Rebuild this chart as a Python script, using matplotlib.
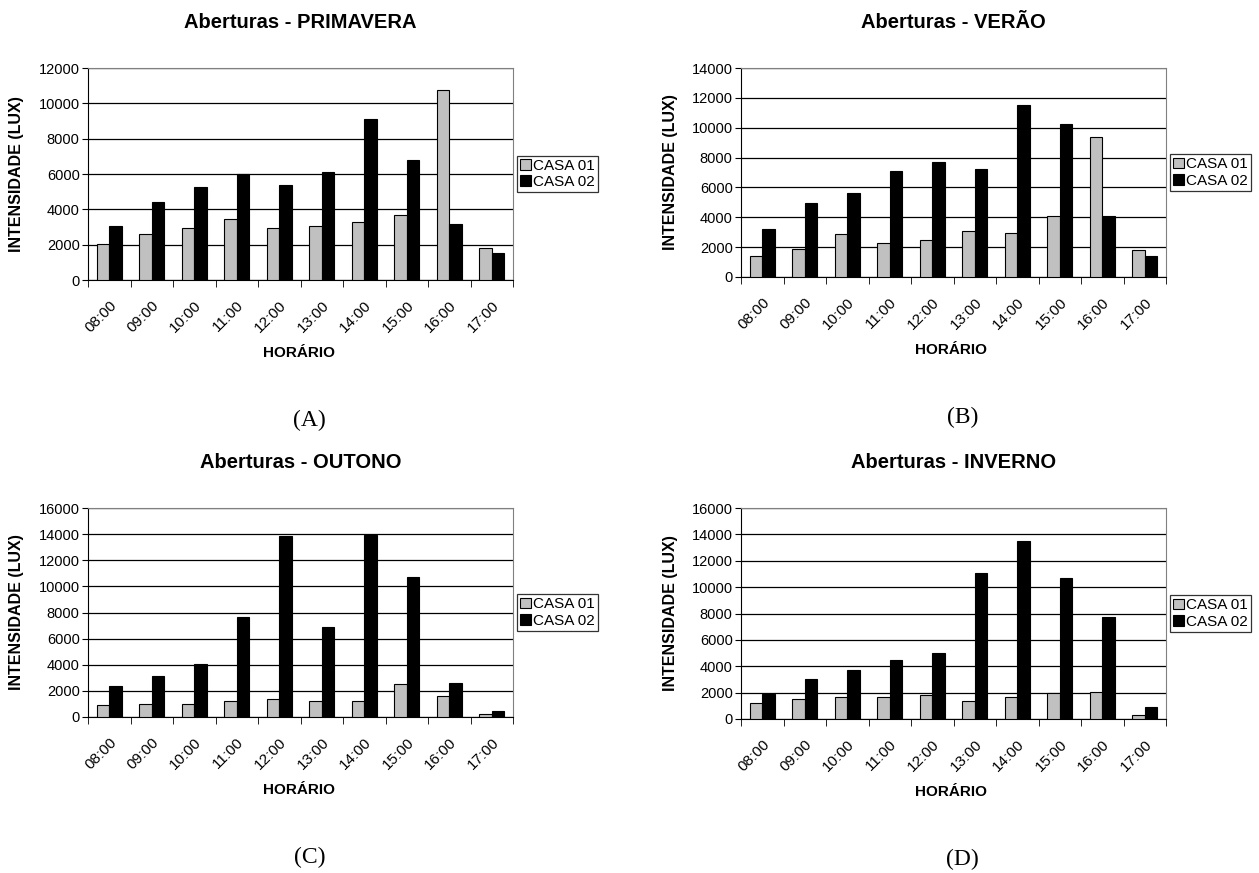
import numpy as np
import matplotlib
matplotlib.use("Agg")
import matplotlib.pyplot as plt

plt.rcParams['font.family'] = ['Liberation Sans', 'DejaVu Sans']

# horarios (eixo x)
horarios = ["08:00", "09:00", "10:00", "11:00", "12:00",
            "13:00", "14:00", "15:00", "16:00", "17:00"]

# valores (lux)
primavera_casa01 = [2060, 2610, 2950, 3450, 2970, 3050, 3310, 3660, 10750, 1790]
primavera_casa02 = [3070, 4440, 5280, 6000, 5350, 6100, 9120, 6820, 3160, 1540]

verao_casa01 = [1390, 1880, 2870, 2310, 2510, 3050, 2940, 4080, 9350, 1790]
verao_casa02 = [3230, 4980, 5650, 7130, 7690, 7260, 11520, 10220, 4060, 1410]

outono_casa01 = [900, 1020, 970, 1230, 1410, 1230, 1200, 2510, 1610, 230]
outono_casa02 = [2360, 3120, 4020, 7680, 13820, 6860, 13900, 10750, 2640, 440]

inverno_casa01 = [1190, 1490, 1650, 1670, 1800, 1390, 1700, 1950, 2030, 280]
inverno_casa02 = [1900, 3010, 3700, 4460, 5040, 11060, 13520, 10680, 7750, 890]

titulos = ["Aberturas - PRIMAVERA", "Aberturas - VERÃO",
           "Aberturas - OUTONO", "Aberturas - INVERNO"]
letras = ["(A)", "(B)", "(C)", "(D)"]
ymax = [12000, 14000, 16000, 16000]
series = [(primavera_casa01, primavera_casa02),
          (verao_casa01, verao_casa02),
          (outono_casa01, outono_casa02),
          (inverno_casa01, inverno_casa02)]

W, H = 1259, 873
fig = plt.figure(figsize=(W / 100, H / 100), dpi=100)

# caixas dos graficos em pixels: left, right, top, bottom
caixas = [(88, 513, 68, 280), (741, 1166, 68, 277),
          (88, 513, 508, 717), (741, 1166, 508, 719)]
ylabel_x = [17, 670, 17, 670]

x = np.arange(len(horarios))
w = 0.29

for i in range(4):
    l, r, t, b = caixas[i]
    ax = fig.add_axes([l / W, 1 - b / H, (r - l) / W, (b - t) / H])
    c1, c2 = series[i]
    ax.bar(x - w / 2, c1, w, color="#c0c0c0", edgecolor="black", linewidth=0.8,
           label="CASA 01", zorder=3)
    ax.bar(x + w / 2, c2, w, color="black", edgecolor="black", linewidth=0.8,
           label="CASA 02", zorder=3)

    ax.set_xlim(-0.5, len(horarios) - 0.5)
    ax.set_ylim(0, ymax[i])
    ax.set_yticks(np.arange(0, ymax[i] + 1, 2000))
    ax.yaxis.grid(True, color="black", linewidth=0.9, zorder=0)
    ax.tick_params(axis="y", labelsize=10.5, length=4, direction="out", pad=2)

    # ticks nas divisas das categorias, rotulos no centro
    ax.set_xticks(x)
    ax.set_xticklabels(horarios, rotation=45, ha="right", rotation_mode="anchor",
                       fontsize=11)
    ax.tick_params(axis="x", which="major", length=0, pad=13)
    ax.set_xticks(np.arange(-0.5, len(horarios)), minor=True)
    ax.tick_params(axis="x", which="minor", length=5, direction="out")

    for s in ["top", "right"]:
        ax.spines[s].set_color("#808080")
    for s in ["left", "bottom"]:
        ax.spines[s].set_color("black")

    leg = ax.legend(loc="center left", bbox_to_anchor=(1.0, 0.5),
                    frameon=True, fontsize=11, handlelength=0.7, handleheight=0.7,
                    handletextpad=0.15, borderpad=0.2, labelspacing=0.15,
                    borderaxespad=0.25, fancybox=False)
    leg.get_frame().set_edgecolor("black")
    leg.get_frame().set_linewidth(0.9)

    fig.text(((l + r) / 2) / W, 1 - (t - 45) / H, titulos[i],
             ha="center", va="center", fontsize=14.5, fontweight="bold")
    fig.text(((l + r) / 2 - 2) / W, 1 - (b + 73) / H, "HORÁRIO",
             ha="center", va="center", fontsize=11, fontweight="bold")
    fig.text(ylabel_x[i] / W, 1 - ((t + b) / 2) / H, "INTENSIDADE (LUX)",
             ha="center", va="center", rotation=90, fontsize=11.5, fontweight="bold")
    fig.text(((l + r) / 2 + 9) / W, 1 - (b + 140) / H, letras[i],
             ha="center", va="center", fontsize=17, family="Liberation Serif")

fig.savefig("out.png", dpi=100)
